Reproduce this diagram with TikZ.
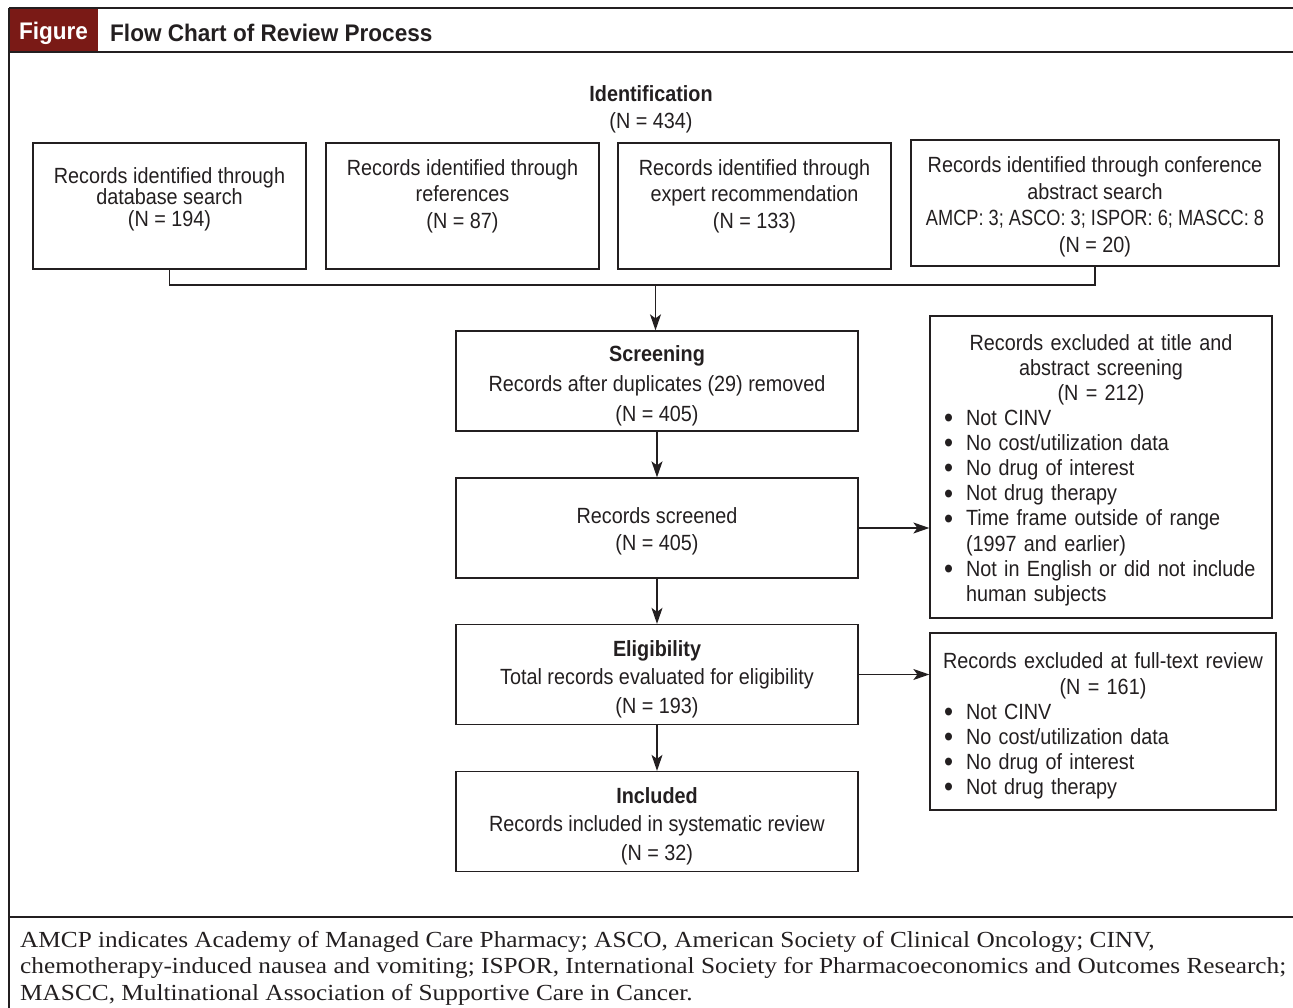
\documentclass[tikz,border=0pt]{standalone}
\usepackage{fontspec}
\usepackage{graphicx}
\setmainfont[FakeStretch=1.1]{Liberation Serif}
\newfontfamily\boxfont[FakeStretch=0.9]{Liberation Sans}
\newfontfamily\headfont[FakeStretch=0.94]{Liberation Sans}
\usetikzlibrary{arrows.meta,positioning}
\definecolor{figred}{RGB}{122,26,22}
\definecolor{inkgray}{RGB}{35,31,32}

\tikzset{
	srcbox/.style={draw=inkgray, line width=1.3pt, minimum width=273pt, minimum height=126pt, inner sep=0pt, align=center, text=inkgray, font=\boxfont\fontsize{22}{26.5}\selectfont},
	stagebox/.style={draw=inkgray, line width=1.3pt, minimum width=402pt, minimum height=100pt, inner sep=0pt, align=center, text=inkgray, font=\boxfont\fontsize{22}{27}\selectfont},
	exclbox/.style={draw=inkgray, line width=1.3pt, inner xsep=14pt, inner ysep=0pt, text=inkgray, font=\boxfont\fontsize{22}{25.1}\selectfont},
	flowarrow/.style={draw=inkgray, line width=1.3pt, -{Stealth[length=16pt,width=11pt,inset=4pt]}},
	frameline/.style={draw=inkgray, line width=2.4pt},
}
% bullet item, heading line, struts to place text inside the boxes
\newcommand{\bul}{\makebox[22pt][l]{\smash{\raisebox{-2.2pt}{\scalebox{1.3}{\textbullet}}}}}
\newcommand{\headln}[1]{\makebox[\linewidth][c]{#1}\par}
\newcommand{\topstrut}[1]{\rule{0pt}{#1}}
\newcommand{\lowstrut}[1]{\rule[-#1]{0pt}{#1}}

\begin{document}
\begin{tikzpicture}[x=1pt, y=-1pt]
		\useasboundingbox (0,0) rectangle (1293,1008);
		
		% frame and header
		\fill[figred] (9,9) rectangle (98,52);
		\draw[frameline] (9,8) -- (1293,8);
		\draw[frameline] (9,52) -- (1293,52);
		\draw[line width=1.5pt, inkgray] (9,8) -- (9,1008);
		\draw[line width=1.5pt, inkgray] (9,917) -- (1293,917);
		\node[text=white, font=\headfont\bfseries\fontsize{24}{26}\selectfont] (figtag) at (53.5,33) {Figure};
		\node[anchor=west, inner sep=0pt, text=inkgray, font=\headfont\bfseries\fontsize{24}{26}\selectfont] (figtitle) at (110,33) {Flow Chart of Review Process};
		
		% identification
		\node[align=center, text=inkgray, font=\boxfont\fontsize{22}{27}\selectfont] (ident) at (651,109) {\textbf{Identification}\\(N = 434)};
		
		\node[srcbox, font=\boxfont\fontsize{22}{21.5}\selectfont] (dbsrc) at (169.5,206) {Records identified through\\database search\\(N = 194)\lowstrut{18pt}};
		\node[srcbox] (refsrc) at (462.5,206) {Records identified through\\references\\(N = 87)\lowstrut{24pt}};
		\node[srcbox] (expsrc) at (754.5,206) {Records identified through\\expert recommendation\\(N = 133)\lowstrut{24pt}};
		\node[srcbox, minimum width=368pt] (confsrc) at (1095,203) {\topstrut{24pt}Records identified through conference\\abstract search\\\scalebox{0.92}[1]{AMCP: 3; ASCO: 3; ISPOR: 6; MASCC: 8}\\(N = 20)};
		
		\coordinate (join) at (655.5,285);
		\draw[draw=inkgray, line width=1.3pt] (dbsrc.south) |- (join) -| (confsrc.south);
		
		% stages
		\node[stagebox, font=\boxfont\fontsize{22}{30}\selectfont] (screen) at (657,381) {\topstrut{25pt}\textbf{Screening}\\Records after duplicates (29) removed\\(N = 405)};
		\node[stagebox] (screened) at (657,528) {\topstrut{23pt}Records screened\\(N = 405)};
		\node[stagebox, font=\boxfont\fontsize{22}{28.5}\selectfont] (elig) at (657,674.5) {\topstrut{25pt}\textbf{Eligibility}\\Total records evaluated for eligibility\\(N = 193)};
		\node[stagebox, font=\boxfont\fontsize{22}{28.5}\selectfont] (incl) at (657,821.5) {\topstrut{25pt}\textbf{Included}\\Records included in systematic review\\(N = 32)};
		
		\draw[flowarrow] (join) -- (join |- screen.north);
		\draw[flowarrow] (screen) -- (screened);
		\draw[flowarrow] (screened) -- (elig);
		\draw[flowarrow] (elig) -- (incl);
		
		% exclusions
		\node[exclbox, text width=314pt, minimum height=302pt] (exclone) at (1101,467) {%
			\headln{\topstrut{22pt}Records excluded at title and}
			\headln{abstract screening}
			\headln{(N = 212)}
			\raggedright
			\bul Not CINV\\
			\bul No cost/utilization data\\
			\bul No drug of interest\\
			\bul Not drug therapy\\
			\bul Time frame outside of range\\
			\hspace*{22pt}(1997 and earlier)\\
			\bul Not in English or did not include\\
			\hspace*{22pt}human subjects\par};
		\node[exclbox, text width=318pt, minimum height=177pt] (excltwo) at (1103,721.5) {%
			\headln{\topstrut{25pt}Records excluded at full-text review}
			\headln{(N = 161)}
			\raggedright
			\bul Not CINV\\
			\bul No cost/utilization data\\
			\bul No drug of interest\\
			\bul Not drug therapy\par};
		
		\draw[flowarrow] (screened.east) -- (screened.east -| exclone.west);
		\draw[flowarrow] (elig.east) -- (elig.east -| excltwo.west);
		
		% footnote
		\node[anchor=north west, inner sep=0pt, align=left, text=inkgray, font=\fontsize{23}{26.5}\selectfont] (abbrev) at (20,931) {AMCP indicates Academy of Managed Care Pharmacy; ASCO, American Society of Clinical Oncology; CINV,\\chemotherapy-induced nausea and vomiting; ISPOR, International Society for Pharmacoeconomics and Outcomes Research;\\MASCC, Multinational Association of Supportive Care in Cancer.};
	\end{tikzpicture}
\end{document}
